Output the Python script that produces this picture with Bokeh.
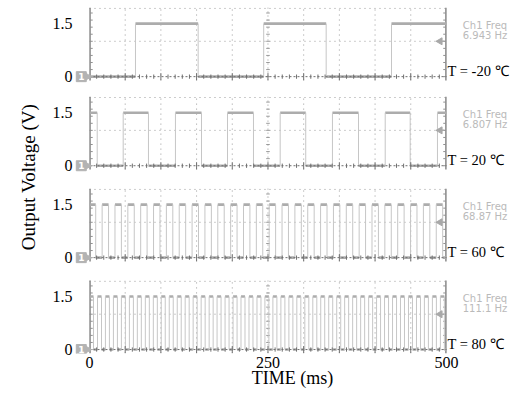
import math
from bokeh.plotting import figure
from bokeh.models import FixedTicker, Range1d, Title
from bokeh.core.properties import value
from bokeh.embed import file_html
from bokeh.resources import INLINE

# ---------------- data ----------------
temps = ["T = -20 \u2103", "T = 20 \u2103", "T = 60 \u2103", "T = 80 \u2103"]
freqs = ["6.943 Hz", "6.807 Hz", "68.87 Hz", "111.1 Hz"]
x_ticks = [0, 250, 500]
y_tick_labels = ["0", "1.5"]
high_level = 1.5
low_level = 0.0

# high intervals (ms) for each panel; 0 / 500 = window edges
p1_rise = [64.4, 244.0, 423.0]
p1_fall = [152.2, 331.5, 500.0]

p2_rise = [0.0, 47.2, 120.4, 193.3, 267.1, 340.3, 414.2, 487.4]
p2_fall = [10.8, 82.6, 156.9, 229.7, 302.9, 376.8, 449.2, 500.0]

p3_rise = [0.0, 17.7, 35.7, 53.7, 71.7, 89.7, 107.7, 125.7, 143.7, 161.7,
           179.7, 197.7, 215.7, 233.7, 251.7, 269.7, 287.7, 305.7, 323.7,
           341.7, 359.7, 377.7, 395.7, 413.7, 431.7, 449.7, 467.7, 485.7]
p3_fall = [8.7, 26.7, 44.7, 62.7, 80.7, 98.7, 116.7, 134.7, 152.7, 170.7,
           188.7, 206.7, 224.7, 242.7, 260.7, 278.7, 296.7, 314.7, 332.7,
           350.7, 368.7, 386.7, 404.7, 422.7, 440.7, 458.7, 476.7, 494.7]

p4_rise = [0.0, 11.2, 22.3, 33.5, 44.7, 55.9, 67.0, 78.2, 89.4, 100.5,
           111.7, 122.9, 134.0, 145.2, 156.4, 167.6, 178.7, 189.9, 201.1,
           212.2, 223.4, 234.6, 245.7, 256.9, 268.1, 279.3, 290.4, 301.6,
           312.8, 323.9, 335.1, 346.3, 357.4, 368.6, 379.8, 391.0, 402.1,
           413.3, 424.5, 435.6, 446.8, 458.0, 469.1, 480.3, 491.5]
p4_fall = [5.6, 16.8, 27.9, 39.1, 50.3, 61.5, 72.6, 83.8, 95.0, 106.1,
           117.3, 128.5, 139.6, 150.8, 162.0, 173.2, 184.3, 195.5, 206.7,
           217.8, 229.0, 240.2, 251.3, 262.5, 273.7, 284.9, 296.0, 307.2,
           318.4, 329.5, 340.7, 351.9, 363.0, 374.2, 385.4, 396.6, 407.7,
           418.9, 430.1, 441.2, 452.4, 463.6, 474.7, 485.9, 497.1]

rises = [p1_rise, p2_rise, p3_rise, p4_rise]
falls = [p1_fall, p2_fall, p3_fall, p4_fall]

# ---------------- layout ----------------
offsets = [7.72, 5.20, 2.60, 0.0]
P_TOP = 1.95
P_BOT = -0.11
XMIN, XMAX = 0.0, 500.0

SERIF = "Liberation Serif"
SANS = "DejaVu Sans"

p = figure(width=510, height=390, x_range=Range1d(-21.0, 589.7),
           y_range=Range1d(-0.112, 9.874), output_backend="svg",
           toolbar_location=None, min_border_left=74, min_border_right=0,
           min_border_top=0, min_border_bottom=33)
p.outline_line_color = None
p.xgrid.visible = False
p.ygrid.visible = False
p.background_fill_color = "white"
p.border_fill_color = "white"

# axes
p.xaxis.ticker = FixedTicker(ticks=x_ticks)
p.xaxis.axis_line_color = None
p.xaxis.major_tick_line_color = None
p.xaxis.minor_tick_line_color = None
p.xaxis.major_tick_out = 0
p.xaxis.major_tick_in = 0
p.xaxis.major_label_standoff = 3
p.xaxis.major_label_text_font = SERIF
p.xaxis.major_label_text_font_size = "16px"
p.xaxis.major_label_text_line_height = 0.9
p.xaxis.major_label_text_color = "black"
p.xaxis.axis_label = "TIME (ms)"
p.xaxis.axis_label_standoff = -3
p.xaxis.axis_label_text_font = SERIF
p.xaxis.axis_label_text_font_size = "18px"
p.xaxis.axis_label_text_font_style = "normal"
p.xaxis.axis_label_text_line_height = 0.9
p.xaxis.axis_label_text_color = "black"

yt = []
yo = {}
for off in offsets:
    for lvl, lab in zip([low_level, high_level], y_tick_labels):
        v = off + lvl
        yt.append(v)
        yo[v] = lab
p.yaxis.ticker = FixedTicker(ticks=yt)
p.yaxis.major_label_overrides = yo
p.yaxis.axis_line_color = None
p.yaxis.major_tick_line_color = None
p.yaxis.minor_tick_line_color = None
p.yaxis.major_tick_out = 0
p.yaxis.major_tick_in = 0
p.yaxis.major_label_standoff = 2
p.yaxis.major_label_text_font = SERIF
p.yaxis.major_label_text_font_size = "16px"
p.yaxis.major_label_text_color = "black"

GRID = "#9a9a9a"
SIG_H = "#acacac"
SIG_V = "#c6c6c6"
MARK = "#b3b3b3"

for i, off in enumerate(offsets):
    b, t = off + P_BOT, off + P_TOP
    gx = [x for x in range(50, 500, 50) if x != 250]
    p.segment(x0=gx, y0=[b] * len(gx), x1=gx, y1=[t] * len(gx),
              line_color=GRID, line_width=1, line_dash="1 4")
    p.segment(x0=[0, 0], y0=[off + 1.0, t - 0.02], x1=[500, 500],
              y1=[off + 1.0, t - 0.02], line_color=GRID, line_width=1,
              line_dash="1 4")
    p.segment(x0=[250], y0=[b], x1=[250], y1=[t], line_color=GRID,
              line_width=1, line_dash="1 3")
    ty = [off + 0.2 * k for k in range(0, 10)]
    p.segment(x0=[247.5] * len(ty), y0=ty, x1=[252.5] * len(ty), y1=ty,
              line_color=GRID, line_width=1)
    p.segment(x0=[0.8, 499.2], y0=[b, b], x1=[0.8, 499.2], y1=[t, t],
              line_color="#909090", line_width=1.6)
    p.segment(x0=[0.8] * len(ty), y0=ty, x1=[4.5] * len(ty), y1=ty,
              line_color="#909090", line_width=1)
    p.segment(x0=[495.5] * len(ty), y0=ty, x1=[499.2] * len(ty), y1=ty,
              line_color="#909090", line_width=1)

    # signal
    r, f = rises[i], falls[i]
    hy = off + high_level
    ly = off + low_level
    p.segment(x0=r, y0=[hy] * len(r), x1=f, y1=[hy] * len(f),
              line_color=SIG_H, line_width=2.6)
    lx0, lx1 = [], []
    if r[0] > XMIN:
        lx0.append(XMIN); lx1.append(r[0])
    for k in range(len(f)):
        nxt = r[k + 1] if k + 1 < len(r) else XMAX
        if f[k] < XMAX:
            lx0.append(f[k]); lx1.append(nxt)
    p.segment(x0=lx0, y0=[ly] * len(lx0), x1=lx1, y1=[ly] * len(lx1),
              line_color=SIG_H, line_width=2.6)
    ex = [x for x in r if x > XMIN] + [x for x in f if x < XMAX]
    p.segment(x0=ex, y0=[ly] * len(ex), x1=ex, y1=[hy] * len(ex),
              line_color=SIG_V, line_width=1)

    # zero axis with ticks
    p.segment(x0=[0], y0=[off], x1=[500], y1=[off], line_color="#6f6f6f",
              line_width=1, line_dash="2 2")
    tx = [10 * k for k in range(1, 50) if k % 5 != 0]
    p.segment(x0=tx, y0=[off - 0.06] * len(tx), x1=tx,
              y1=[off + 0.06] * len(tx), line_color="#6f6f6f", line_width=1)
    tx5 = [50 * k for k in range(1, 10)]
    p.segment(x0=tx5, y0=[off - 0.1] * len(tx5), x1=tx5,
              y1=[off + 0.1] * len(tx5), line_color="#6f6f6f", line_width=1)

    # trigger arrow on the right at 1 div
    p.scatter(x=[491.0], y=[off + 1.0], marker="triangle", size=7,
              angle=math.pi / 2, fill_color="#a8a8a8", line_color="#a8a8a8")
    p.segment(x0=[491.0], y0=[off + 1.0], x1=[497.0], y1=[off + 1.0],
              line_color="#a8a8a8", line_width=1.5)

    # ground marker "1"
    p.scatter(x=[-11.5], y=[off], marker="square", size=10,
              fill_color=MARK, line_color=MARK)
    p.scatter(x=[-3.5], y=[off], marker="triangle", size=8,
              angle=-math.pi / 2, fill_color=MARK, line_color=MARK)
    p.text(x=[-11.5], y=[off], text=["1"], text_font=value(SANS),
           text_font_size="9px", text_font_style="bold", text_color="white",
           text_align="center", text_baseline="middle")

    # right-side annotations
    p.text(x=[554.0, 554.0], y=[off + 1.45, off + 1.17],
           text=["Ch1 Freq", freqs[i]], text_font=value(SANS),
           text_font_size="10px", text_color="#bababa",
           text_align="center", text_baseline="middle")
    p.text(x=[501.5], y=[off + 0.15], text=[temps[i]], text_font=value(SERIF),
           text_font_size="14.5px", text_color="black",
           text_align="left", text_baseline="middle")

# y axis title
ytitle = Title(text="Output Voltage (V)", align="center", offset=20,
               text_font=SERIF, text_font_size="19px",
               text_font_style="normal", text_color="black", standoff=22)
p.add_layout(ytitle, "left")

open("out.html", "w").write(file_html(p, INLINE))
